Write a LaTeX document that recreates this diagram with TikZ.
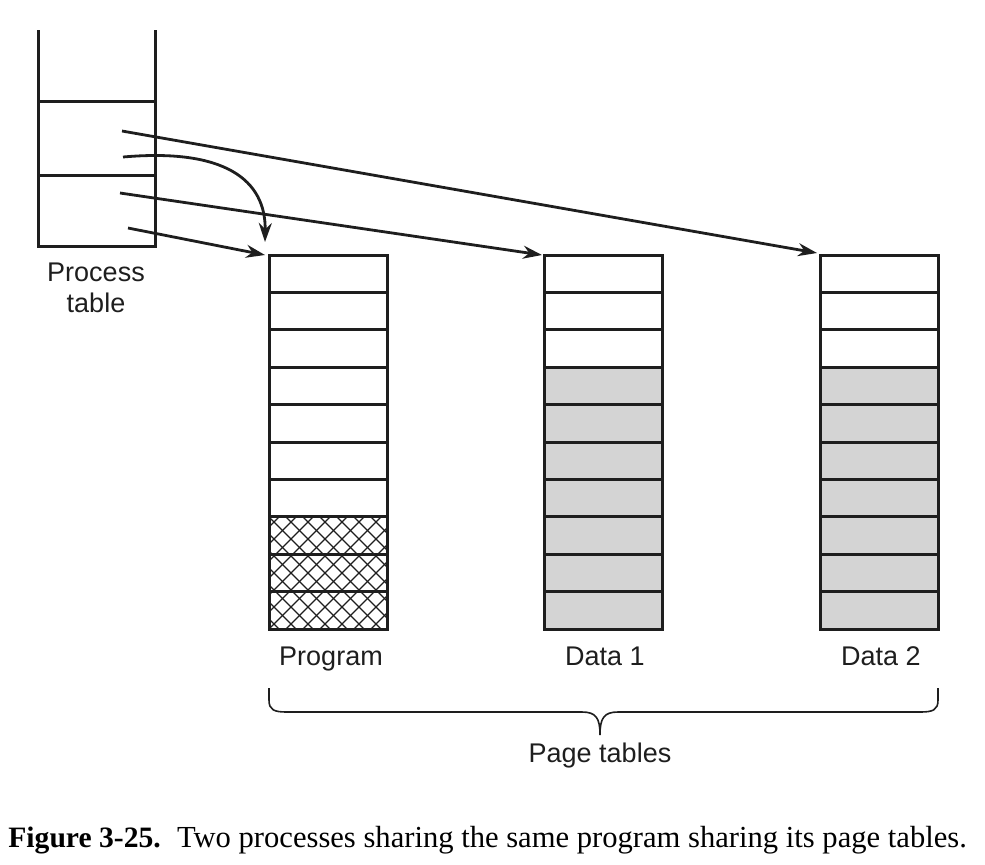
\documentclass[tikz,border=0pt]{standalone}
\usepackage{fontspec}
\setmainfont{Liberation Serif}
\setsansfont{Liberation Sans}
\usetikzlibrary{arrows.meta,calc}
\definecolor{cellgray}{RGB}{212,212,212}
\definecolor{ink}{RGB}{30,30,30}
\begin{document}
\begin{tikzpicture}[x=0.5pt,y=-0.5pt,
  line/.style={draw=ink,line width=1.5pt},
  ptr/.style={draw=ink,line width=1.4pt,-{Stealth[length=9.5pt,width=6.5pt]}},
  hatch/.style={draw=ink,line width=0.6pt},
  lbl/.style={font=\sffamily\fontsize{13.5}{15.5}\selectfont,text=ink},
  tbl/.style={draw=none,inner sep=0pt,minimum width=59pt,minimum height=187pt,anchor=north west}]
\useasboundingbox (0,0) rectangle (985,864);

% process table
\draw[line] (38,30) -- (38,246) -- (155,246) -- (155,30);
\draw[line] (38,101) -- (155,101);
\draw[line] (38,175) -- (155,175);
\node[lbl,align=center] (ptlabel) at (96,288) {Process\\table};
\coordinate (s1) at (122,131);
\coordinate (s2) at (123,157);
\coordinate (s3) at (120,193);
\coordinate (s4) at (128,228);

% page tables
\node[tbl] (prog) at (269,255) {};
\node[tbl] (dataA) at (544,255) {};
\node[tbl] (dataB) at (820,255) {};

% hatch in program rows 8-10
\begin{scope}
  \clip (269,517) rectangle (387,629);
  \foreach \i in {-8,...,8} {
    \draw[hatch] ({269+\i*17},517) -- ++(112,112);
    \draw[hatch] ({269+\i*17+112},517) -- ++(-112,112);
  }
\end{scope}
% gray rows
\fill[cellgray] (544,367) rectangle (662,629);
\fill[cellgray] (820,367) rectangle (938,629);

\foreach \x in {269,544,820} {
  \foreach \r in {0,...,9} {
    \draw[line] (\x,{255+\r*37.4}) rectangle ({\x+118},{255+(\r+1)*37.4});
  }
}

\node[lbl,anchor=base] (lprog) at (331,665) {Program};
\node[lbl,anchor=base] (ldataA) at (605,665) {Data 1};
\node[lbl,anchor=base] (ldataB) at (881,665) {Data 2};

% arrows
\draw[ptr] (s1) -- ($(dataB.north west)+(-3,-2)$);
\draw[ptr] (s2) .. controls (225,148) and (266,180) .. ($(prog.north west)+(-4,-13)$);
\draw[ptr] (s3) -- ($(dataA.north west)+(-2,0)$);
\draw[ptr] (s4) -- ($(prog.north west)+(-4,0)$);

% brace
\coordinate (bl) at (269,688);
\coordinate (br) at (938,688);
\coordinate (bt) at (600,735);
\draw[draw=ink,line width=0.8pt] (bl) -- ++(0,12) .. controls ++(0,10) and (274,712) .. (287,712)
  -- (582,712) .. controls (596,712) and (600,718) .. (bt)
  .. controls (600,718) and (604,712) .. (618,712) -- (920,712)
  .. controls (933,712) and (938,710) .. (938,700) -- (br);
\node[lbl] (ptabs) at (600,756) {Page tables};

% caption
\node[anchor=base west,inner sep=0pt] (cap) at (8,847)
  {\fontsize{14.8}{17}\selectfont\textbf{Figure 3-25.}\hspace{0.55em}\fontsize{15.3}{17}\selectfont Two processes sharing the same program sharing its page tables.};
\end{tikzpicture}
\end{document}
